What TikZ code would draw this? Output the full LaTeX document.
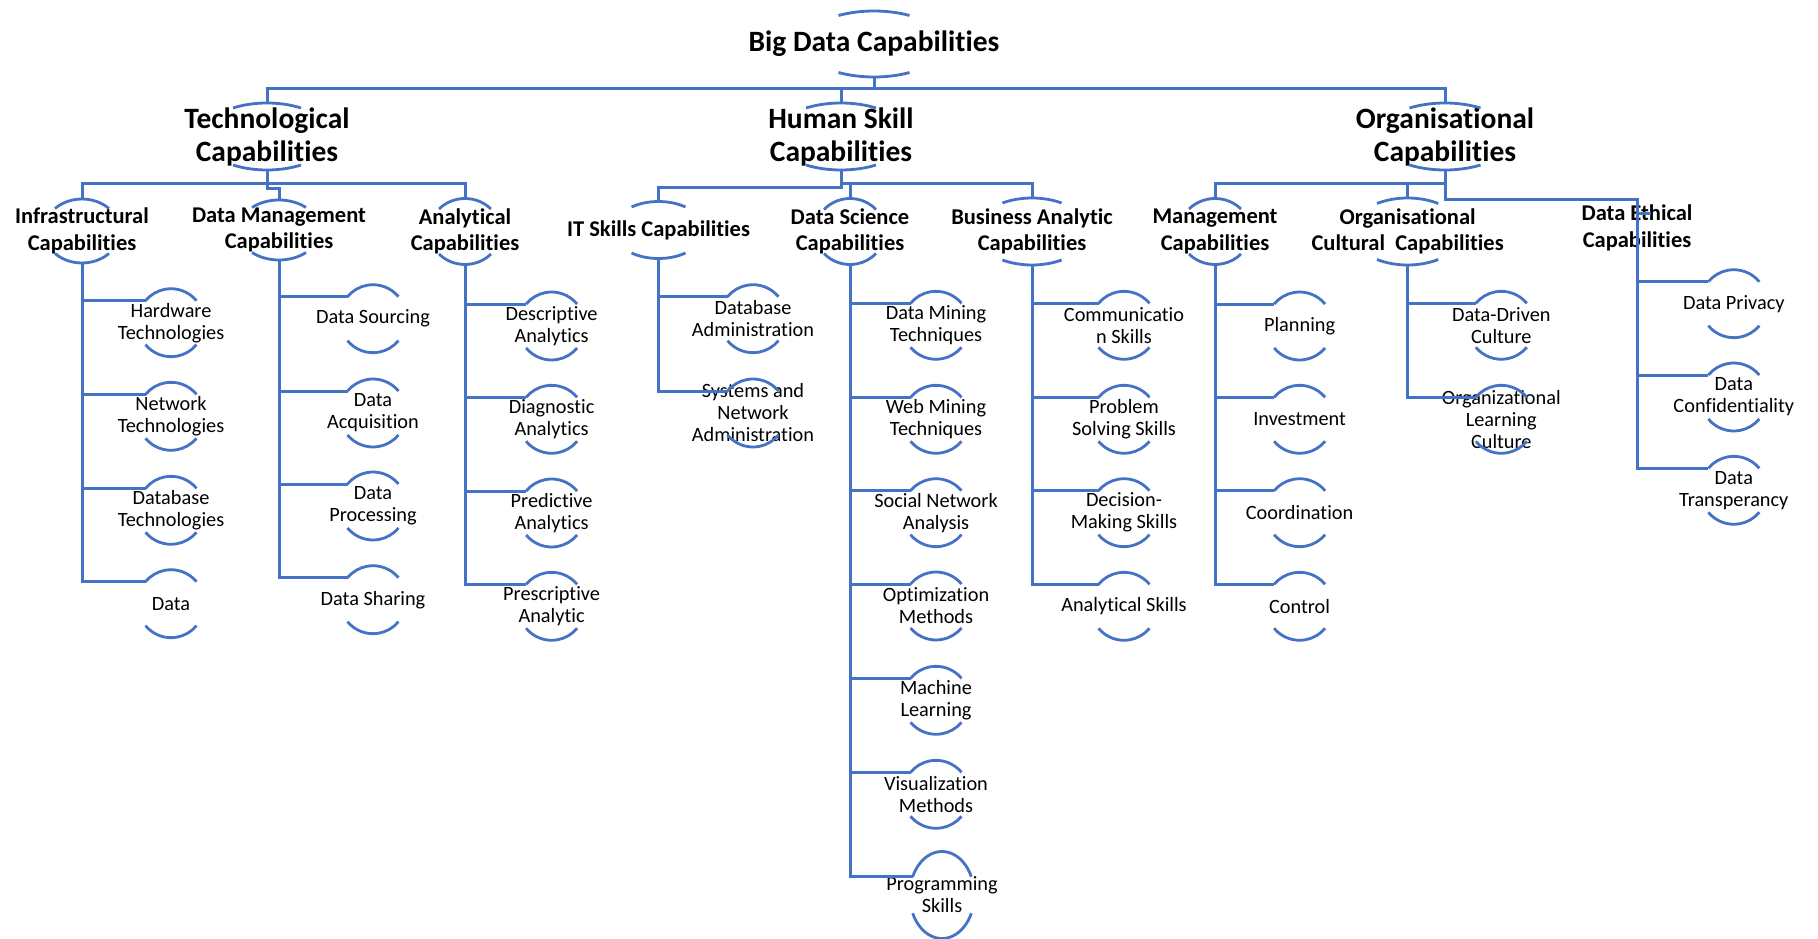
\documentclass[tikz,border=0pt]{standalone}
\usepackage{fontspec}
\setmainfont{Carlito}[Ligatures=NoCommon]
\definecolor{linkblue}{HTML}{4472C4}

% node with a top and a bottom arc taken from an ellipse round its text
% #1 name, #2 x, #3 y (downwards), #4 style, #5 text,
% #6 half chord of the arcs, #7 apex offset, #8 offset of the arc ends
\newcommand\hcnode[8]{%
  \node[#4] (#1) at (#2,{-(#3)}) {#5};
  \pgfmathsetmacro\hcth{asin((#8)/(#7))}%
  \pgfmathsetmacro\hcra{(#6)/cos(\hcth)}%
  \draw[arcline] ({#2+#6},{-(#3)+#8}) arc[start angle=\hcth, end angle=180-\hcth, x radius=\hcra, y radius=#7];
  \draw[arcline] ({#2-#6},{-(#3)-#8}) arc[start angle=180+\hcth, end angle=360-\hcth, x radius=\hcra, y radius=#7];
  \coordinate (#1-t) at (#2,{-(#3)+#7});
  \coordinate (#1-b) at (#2,{-(#3)-#7});
  \coordinate (#1-l) at ({#2-#6},{-(#3)+#8});
}
% leaf: #1 name, #2 x, #3 y of its connector, #4 text
\newcommand\leafnode[4]{\hcnode{#1}{#2}{#3+22}{leaf}{#4}{25.5}{34}{22}}

\tikzset{
  conn/.style={draw=linkblue, line width=3pt},
  arcline/.style={draw=linkblue, line width=2.8pt},
  lvltop/.style={font=\fontsize{29.5}{33}\selectfont\bfseries, align=center, inner sep=0pt, text=black},
  lvlmid/.style={font=\fontsize{22.5}{26.5}\selectfont\bfseries, align=center, inner sep=0pt, text=black},
  leaf/.style={font=\fontsize{20.3}{22}\selectfont, align=center, inner sep=0pt, text=black},
}

\begin{document}
\begin{tikzpicture}[x=1pt,y=1pt]
\fill[white] (0,0) rectangle (1818,-939);
\useasboundingbox (0,0) rectangle (1818,-939);

% top levels
\hcnode{root}{874}{44}{lvltop}{Big Data Capabilities}{35.5}{33}{28.5}
\hcnode{tech}{267}{136.5}{lvltop}{Technological\\Capabilities}{34}{33.5}{28.5}
\hcnode{human}{841}{136.5}{lvltop}{Human Skill\\Capabilities}{35}{33.5}{28.5}
\hcnode{org}{1445}{136.5}{lvltop}{Organisational\\Capabilities}{35.5}{33.5}{28.5}

% second level
\hcnode{infra}{82}{231}{lvlmid}{Infrastructural\\Capabilities}{27}{32}{22.5}
\hcnode{dm}{279}{230}{lvlmid}{Data Management\\Capabilities}{27}{30}{22.5}
\hcnode{anal}{465}{231.5}{lvlmid}{Analytical\\Capabilities}{26}{33}{22.5}
\hcnode{it}{658.5}{230}{lvlmid}{IT Skills Capabilities}{27}{28.5}{23}
\hcnode{ds}{850}{231.5}{lvlmid}{Data Science\\Capabilities}{26}{33}{22}
\hcnode{ba}{1032}{231.5}{lvlmid}{Business Analytic\\Capabilities}{29.6}{33.5}{28.5}
\hcnode{mgmt}{1215}{231.5}{lvlmid}{Management\\Capabilities}{26}{33}{22.5}
\hcnode{oc}{1407.6}{231.5}{lvlmid}{Organisational\\Cultural~~Capabilities}{30.6}{33.5}{28}
\node[lvlmid] (de) at (1637,-228) {Data Ethical\\Capabilities};
\coordinate (de-t) at (1637,-213);
\coordinate (de-b) at (1637,-213);

% leaves
\leafnode{hw}{171}{300.7}{Hardware\\Technologies}
\leafnode{nw}{171}{394.3}{Network\\Technologies}
\leafnode{dbt}{171}{488.3}{Database\\Technologies}
\leafnode{dat}{171}{581.7}{Data}

\leafnode{src}{373}{296.7}{Data Sourcing}
\leafnode{acq}{373}{391}{Data\\Acquisition}
\leafnode{proc}{373}{484}{Data\\Processing}
\leafnode{shr}{373}{577.7}{Data Sharing}

\leafnode{desc}{551.6}{304}{Descriptive\\Analytics}
\leafnode{diag}{551.6}{397.3}{Diagnostic\\Analytics}
\leafnode{pred}{551.6}{491}{Predictive\\Analytics}
\leafnode{pres}{551.6}{584.3}{Prescriptive\\Analytic}

\leafnode{dba}{753}{296.7}{Database\\Administration}
\leafnode{sna}{753}{391}{Systems and\\Network\\Administration}

\leafnode{dmt}{936}{303.3}{Data Mining\\Techniques}
\leafnode{wmt}{936}{397.3}{Web Mining\\Techniques}
\leafnode{sna2}{936}{490.7}{Social Network\\Analysis}
\leafnode{opt}{936}{584}{Optimization\\Methods}
\leafnode{ml}{936}{678.3}{Machine\\Learning}
\leafnode{vis}{936}{772.3}{Visualization\\Methods}
\hcnode{prog}{942}{895}{leaf}{Programming\\Skills}{29.3}{43.5}{18.3}

\leafnode{com}{1124}{303.3}{Communicatio\\n Skills}
\leafnode{pss}{1124}{397.3}{Problem\\Solving Skills}
\leafnode{dms}{1124}{490.7}{Decision-\\Making Skills}
\leafnode{ans}{1124}{584.3}{Analytical Skills}

\leafnode{plan}{1299.6}{304}{Planning}
\leafnode{inv}{1299.6}{397.3}{Investment}
\leafnode{coord}{1299.6}{490.7}{Coordination}
\leafnode{ctrl}{1299.6}{584.3}{Control}

\leafnode{ddc}{1501.3}{303.3}{Data-Driven\\Culture}
\leafnode{olc}{1501.3}{397.3}{Organizational\\Learning\\Culture}

\leafnode{priv}{1733.8}{281.7}{Data Privacy}
\leafnode{conf}{1733.8}{375}{Data\\Confidentiality}
\leafnode{transp}{1733.8}{468.3}{Data\\Transperancy}

% rails of the elbow connectors
\coordinate (m0) at (0,-89);
\coordinate (m1) at (0,-183);
\coordinate (m1b) at (0,-188);
\coordinate (m2l) at (0,-187);
\coordinate (m3b) at (0,-199);

\draw[conn] (root-b) |- (tech-t |- m0) -- (tech-t);
\draw[conn] (root-b) |- (human-t |- m0) -- (human-t);
\draw[conn] (root-b) |- (org-t |- m0) -- (org-t);

\draw[conn] (tech-b) |- (infra-t |- m1) -- (infra-t);
\draw[conn] (tech-b) |- (dm-t |- m1b) -- (dm-t);
\draw[conn] (tech-b) |- (anal-t |- m1) -- (anal-t);

\draw[conn] (human-b) |- (it-t |- m2l) -- (it-t);
\draw[conn] (human-b) |- (ds-t |- m1) -- (ds-t);
\draw[conn] (human-b) |- (ba-t |- m1) -- (ba-t);

\draw[conn] (org-b) |- (mgmt-t |- m1) -- (mgmt-t);
\draw[conn] (org-b) |- (oc-t |- m1) -- (oc-t);
\draw[conn] (org-b) |- (de-t |- m3b) -- (de-t);
\draw[conn] (de-t) -- ++(14,0);

\foreach \p/\c in {infra/hw, infra/nw, infra/dbt, infra/dat,
                   dm/src, dm/acq, dm/proc, dm/shr,
                   anal/desc, anal/diag, anal/pred, anal/pres,
                   it/dba, it/sna,
                   ds/dmt, ds/wmt, ds/sna2, ds/opt, ds/ml, ds/vis, ds/prog,
                   ba/com, ba/pss, ba/dms, ba/ans,
                   mgmt/plan, mgmt/inv, mgmt/coord, mgmt/ctrl,
                   oc/ddc, oc/olc,
                   de/priv, de/conf, de/transp}
  \draw[conn] (\p-b) |- (\c-l);
\end{tikzpicture}
\end{document}
